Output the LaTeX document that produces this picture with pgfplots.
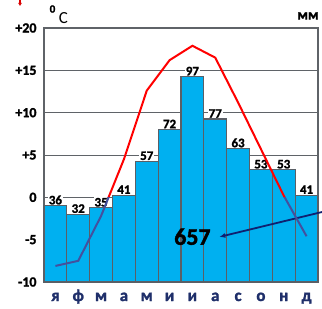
\documentclass[border=0pt]{standalone}
\usepackage{pgfplots}
\pgfplotsset{compat=1.18}
\usepackage{pgfplotstable}
\usepackage{fontspec}
\setmainfont{Carlito}[BoldFont={Carlito Bold}, BoldFeatures={FakeBold=1.6}]
\usetikzlibrary{arrows.meta}
\definecolor{barblue}{HTML}{00B0F0}
\definecolor{bargray}{HTML}{5A5F66}
\definecolor{gridgray}{HTML}{5F6368}
\definecolor{navy}{HTML}{1F2F6A}
\definecolor{slate}{HTML}{44509E}
\definecolor{arrownavy}{HTML}{0F2070}

\pgfplotstableread{
x mm
0 36
1 32
2 35
3 41
4 57
5 72
6 97
7 77
8 63
9 53
10 53
11 41
}\precip

\pgfplotstableread{
x t
0 -8.1
1 -7.5
2 -2.2
3 4.5
4 12.6
5 16.2
6 17.9
7 16.5
8 11.2
9 5.7
10 0.2
11 -4.6
}\temps

\begin{document}
\begin{tikzpicture}
\useasboundingbox (-44bp,-27bp) rectangle (278bp,282bp);
\begin{axis}[
  name=bars,
  scale only axis, width=274bp, height=254bp,
  xmin=-0.5, xmax=11.5, ymin=0, ymax=120,
  clip=false,
  /pgf/number format/assume math mode=true,
  xtick={0,...,11},
  xticklabels={я,ф,м,а,м,и,и,а,с,о,н,д},
  xticklabel style={font=\fontsize{17}{17}\selectfont\bfseries, text=navy, anchor=base, yshift=-19bp},
  ytick={0,20,...,120},
  yticklabels={-10,-5,0,+5,+10,+15,+20},
  yticklabel style={font=\fontsize{14}{14}\selectfont\bfseries, xshift=-4bp},
  major tick length=0pt,
  ymajorgrids,
  grid style={gridgray, line width=0.9bp},
  axis line style={gridgray, line width=1.2bp},
]
\addplot[ybar, bar width=22.83bp, fill=barblue, draw=bargray, line width=1.1bp,
  nodes near coords,
  nodes near coords style={font=\fontsize{13}{13}\selectfont\bfseries, fill=white, inner sep=0.8bp, text=black}]
  table[x=x, y=mm] {\precip};
\draw[arrownavy, line width=1.8bp, -{Latex[length=6bp,width=5bp]}] (axis cs:11.69,33.1) -- (axis cs:7.18,21.3);
\node[font=\fontsize{24}{24}\selectfont\bfseries] at (axis cs:6.0,21.4) {657};
\end{axis}

\begin{axis}[
  at={(0,84.667bp)}, anchor=south west,
  scale only axis, width=274bp, height=169.333bp,
  xmin=-0.5, xmax=11.5, ymin=0, ymax=20,
  hide axis,
]
\addplot[red, line width=2bp, no marks] table[x=x, y=t] {\temps};
\end{axis}

\begin{axis}[
  at={(0,0)}, anchor=south west,
  scale only axis, width=274bp, height=84.667bp,
  xmin=-0.5, xmax=11.5, ymin=-10, ymax=0,
  hide axis,
]
\addplot[slate, line width=2bp, no marks] table[x=x, y=t] {\temps};
\end{axis}

\node[font=\fontsize{11}{11}\selectfont\bfseries] at (8.5bp,273bp) {0};
\node[font=\fontsize{17}{17}\selectfont] at (19.5bp,264bp) {C};
\node[font=\fontsize{15}{15}\selectfont\bfseries] at (264bp,266bp) {мм};
\draw[red!85!black, line width=1.2bp, -{Latex[length=3bp,width=4bp]}] (-24bp,286bp) -- (-24bp,276bp);
\end{tikzpicture}
\end{document}
